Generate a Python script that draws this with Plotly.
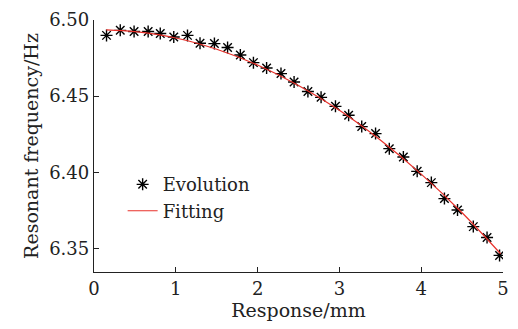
import plotly.graph_objects as go

evo_x = [0.153, 0.321, 0.490, 0.662, 0.810, 0.975, 1.143, 1.296, 1.472, 1.633,
         1.789, 1.949, 2.110, 2.286, 2.446, 2.615, 2.776, 2.952, 3.113, 3.273,
         3.442, 3.610, 3.782, 3.951, 4.124, 4.284, 4.444, 4.637, 4.805, 4.958]
evo_y = [6.4899, 6.4932, 6.4924, 6.4924, 6.4911, 6.4888, 6.4899, 6.4847, 6.4845, 6.4819,
         6.4770, 6.4720, 6.4685, 6.4648, 6.4593, 6.4530, 6.4492, 6.4433, 6.4374, 6.4300,
         6.4254, 6.4155, 6.4100, 6.4006, 6.3932, 6.3827, 6.3752, 6.3643, 6.3572, 6.3454]

fit_x = [0.15, 0.5, 1.0, 1.5, 2.0, 2.5, 3.0, 3.5, 4.0, 4.5, 4.97]
fit_y = [6.4935, 6.4923, 6.4882, 6.4808, 6.4704, 6.4570, 6.4407, 6.4212, 6.3988, 6.3734, 6.3465]

x_ticks = [0, 1, 2, 3, 4, 5]
y_ticks = [6.35, 6.40, 6.45, 6.50]
y_tick_text = ["6.35", "6.40", "6.45", "6.50"]

FONT = "DejaVu Serif"
FS = 18
TFS = 19

fig = go.Figure()
fig.add_trace(go.Scatter(
    x=evo_x, y=evo_y, mode="markers", name="Evolution",
    marker=dict(symbol="asterisk-open", size=10, color="black",
                line=dict(color="black", width=1.4)),
))
fig.add_trace(go.Scatter(
    x=fit_x, y=fit_y, mode="lines", name="Fitting",
    line=dict(color="#e8302a", width=1.2, shape="spline"),
))

axis_common = dict(
    showline=True, linecolor="#222222", linewidth=1.3,
    ticks="inside", ticklen=5, tickcolor="#222222", tickwidth=1.3,
    showgrid=False, zeroline=False, mirror=False,
    tickfont=dict(family=FONT, size=FS, color="#222222"),
)

fig.update_layout(
    width=518, height=329,
    margin=dict(l=94, r=9, t=20, b=57),
    plot_bgcolor="white", paper_bgcolor="white",
    font=dict(family=FONT, size=FS, color="#222222"),
    xaxis=dict(range=[0, 5], tickvals=x_ticks,
               title=dict(text="Response/mm", font=dict(family=FONT, size=TFS), standoff=4),
               **axis_common),
    yaxis=dict(range=[6.3345, 6.50], tickvals=y_ticks, ticktext=y_tick_text,
               title=dict(text="Resonant frequency/Hz", font=dict(family=FONT, size=TFS), standoff=5),
               **axis_common),
    legend=dict(x=0.07, y=0.42, xanchor="left", yanchor="top",
                bgcolor="rgba(0,0,0,0)", font=dict(family=FONT, size=FS),
                tracegroupgap=0, itemwidth=30),
    showlegend=True,
)

fig.write_html("out.html")
